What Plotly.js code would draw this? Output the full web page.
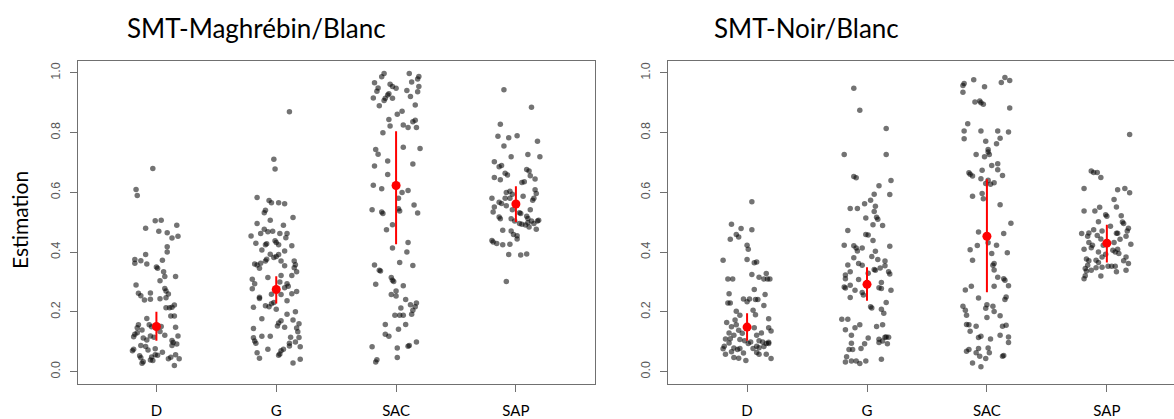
<!DOCTYPE html>
<html><head><meta charset="utf-8">
<script src="https://cdn.plot.ly/plotly-3.0.1.min.js"></script>
<style>html,body{margin:0;padding:0;overflow:hidden;background:#fff}#chart{width:1190px;height:419px}</style>
</head><body><div id="chart"></div>
<script>
const categories = ['D','G','SAC','SAP'];
const yTickVals = [0,0.2,0.4,0.6,0.8,1.0];
const yTickText = ['0.0','0.2','0.4','0.6','0.8','1.0'];
const panelTitles = ['SMT-Maghrébin/Blanc','SMT-Noir/Blanc'];
const yLabel = 'Estimation';

// ---- Panel 1 : SMT-Maghrébin/Blanc ----
const mbD_y = [0.68,0.61,0.59,0.507,0.505,0.49,0.48,0.47,0.465,0.447,0.453,0.418,0.40,0.363,0.375,0.392,0.371,0.36,0.373,0.35,0.346,0.334,0.318,0.318,0.304,0.29,0.262,0.254,0.263,0.278,0.27,0.26,0.244,0.247,0.24,0.242,0.223,0.214,0.214,0.215,0.186,0.186,0.178,0.157,0.147,0.139,0.157,0.15,0.151,0.134,0.122,0.148,0.119,0.117,0.125,0.13,0.112,0.106,0.119,0.115,0.104,0.097,0.07,0.075,0.087,0.084,0.072,0.076,0.065,0.087,0.092,0.053,0.046,0.049,0.056,0.055,0.039,0.037,0.043,0.048,0.043,0.056,0.033,0.028,0.02];
const mbD_jit = [-0.03,-0.17,-0.16,0.04,-0.01,0.17,-0.09,0.02,0.09,0.13,0.18,0.09,0.09,-0.18,-0.18,-0.09,-0.13,-0.08,0.05,0.0,0.01,0.06,0.07,0.16,0.03,-0.17,-0.15,-0.13,-0.05,0.07,0.08,0.10,0.03,0.08,-0.10,-0.05,0.15,0.08,0.11,0.13,0.12,0.15,-0.08,-0.15,-0.16,-0.12,-0.06,-0.04,0.04,0.03,0.07,0.16,0.18,-0.19,-0.18,-0.16,-0.11,-0.08,-0.05,-0.02,0.13,0.14,-0.2,-0.19,-0.13,-0.09,-0.07,-0.01,0.05,0.13,0.17,-0.14,-0.13,-0.04,-0.01,0.01,-0.05,-0.03,0.10,0.12,0.19,0.16,-0.11,-0.12,0.15];

const mbG_y = [0.87,0.711,0.678,0.583,0.573,0.565,0.565,0.562,0.54,0.532,0.516,0.507,0.496,0.49,0.477,0.468,0.47,0.462,0.454,0.462,0.462,0.448,0.43,0.425,0.428,0.438,0.432,0.425,0.421,0.407,0.404,0.393,0.392,0.382,0.385,0.376,0.36,0.357,0.363,0.37,0.37,0.354,0.37,0.358,0.346,0.348,0.334,0.322,0.315,0.322,0.309,0.294,0.277,0.30,0.281,0.294,0.286,0.259,0.258,0.237,0.261,0.268,0.249,0.245,0.22,0.217,0.227,0.231,0.209,0.215,0.192,0.20,0.177,0.173,0.163,0.17,0.153,0.148,0.146,0.16,0.133,0.144,0.113,0.102,0.095,0.118,0.118,0.115,0.114,0.095,0.086,0.099,0.083,0.075,0.063,0.045,0.07,0.075,0.055,0.059,0.029,0.041];
const mbG_jit = [0.11,-0.02,-0.01,-0.16,-0.06,-0.04,0.02,0.07,-0.09,-0.10,0.14,-0.05,-0.16,0.06,-0.10,-0.07,-0.03,-0.13,-0.21,0.03,0.09,0.08,-0.17,-0.09,-0.08,-0.01,0.0,0.02,0.13,-0.12,0.07,-0.05,0.02,-0.02,0.0,-0.08,-0.18,-0.16,-0.13,-0.09,0.04,0.07,0.15,0.16,-0.14,0.15,0.17,0.04,-0.07,0.13,-0.2,-0.18,-0.2,0.03,0.07,0.09,0.10,-0.04,0.04,0.09,0.13,0.17,-0.14,-0.14,-0.09,-0.06,-0.04,-0.02,0.0,-0.19,0.09,0.16,-0.12,0.14,0.02,0.04,0.01,0.07,0.17,0.19,0.18,-0.19,-0.19,-0.18,-0.17,-0.12,-0.05,0.12,0.19,0.11,0.11,0.16,0.2,-0.07,-0.16,-0.14,0.04,0.06,0.02,0.03,0.14,0.2];

const mbSAC_y = [0.998,0.987,0.998,0.988,0.98,0.967,0.962,0.955,0.949,0.97,0.955,0.95,0.939,0.941,0.916,0.915,0.926,0.93,0.908,0.915,0.921,0.937,0.89,0.893,0.862,0.872,0.844,0.822,0.826,0.817,0.837,0.842,0.817,0.80,0.744,0.728,0.751,0.747,0.705,0.688,0.695,0.66,0.624,0.612,0.60,0.606,0.58,0.545,0.538,0.542,0.534,0.529,0.558,0.531,0.492,0.475,0.414,0.432,0.40,0.365,0.355,0.357,0.339,0.337,0.292,0.315,0.306,0.302,0.287,0.27,0.258,0.253,0.241,0.224,0.23,0.217,0.213,0.205,0.192,0.189,0.189,0.189,0.158,0.142,0.158,0.125,0.118,0.085,0.087,0.099,0.083,0.079,0.04,0.032,0.047];
const mbSAC_jit = [-0.10,-0.12,0.11,0.19,0.18,-0.18,-0.05,-0.03,0.0,0.13,0.19,-0.15,-0.16,0.09,-0.19,-0.09,-0.07,-0.06,-0.10,-0.03,0.12,0.18,-0.14,0.16,0.01,0.05,-0.06,-0.05,0.06,0.10,0.14,0.16,0.17,-0.11,-0.17,-0.15,0.06,0.20,-0.07,-0.18,0.14,-0.07,-0.19,-0.12,0.05,0.10,0.02,0.02,0.03,-0.2,-0.12,-0.11,0.15,0.18,-0.03,-0.08,-0.03,0.10,0.09,0.03,0.14,-0.18,-0.14,-0.13,-0.17,-0.04,-0.03,-0.02,0.06,0.0,-0.04,0.0,0.08,0.12,0.17,0.16,0.04,0.14,0.13,-0.01,0.03,0.06,-0.09,0.02,0.08,-0.09,-0.06,0.10,0.11,0.17,-0.2,0.01,-0.16,-0.17,0.01];

const mbSAP_y = [0.944,0.885,0.828,0.788,0.783,0.79,0.771,0.755,0.727,0.719,0.719,0.703,0.686,0.69,0.664,0.658,0.677,0.672,0.65,0.642,0.656,0.645,0.636,0.633,0.609,0.58,0.567,0.563,0.60,0.604,0.594,0.58,0.555,0.58,0.587,0.574,0.58,0.596,0.534,0.518,0.512,0.551,0.542,0.532,0.529,0.512,0.504,0.542,0.52,0.513,0.496,0.493,0.491,0.498,0.504,0.496,0.504,0.507,0.484,0.477,0.473,0.471,0.459,0.455,0.444,0.439,0.434,0.429,0.425,0.426,0.392,0.39,0.394,0.302];
const mbSAP_jit = [-0.10,0.13,-0.13,-0.15,-0.06,0.01,0.18,-0.10,0.10,0.20,-0.04,-0.18,-0.14,-0.12,-0.09,-0.07,0.09,0.11,-0.18,-0.13,0.12,0.16,0.07,0.05,0.16,-0.20,-0.14,-0.12,-0.08,-0.05,-0.03,-0.09,-0.08,-0.05,0.06,0.14,0.15,0.17,-0.19,-0.14,-0.13,-0.18,-0.03,0.03,0.04,-0.04,-0.01,0.12,0.09,0.10,0.03,0.05,0.08,0.10,0.13,0.15,0.18,0.19,0.11,0.17,-0.11,-0.04,-0.02,0.01,0.01,-0.20,-0.19,-0.16,-0.11,-0.05,-0.06,0.04,0.09,-0.08];

const mbMean = [0.151,0.275,0.623,0.561];
const mbLow  = [0.103,0.228,0.426,0.501];
const mbHigh = [0.200,0.319,0.805,0.621];

// ---- Panel 2 : SMT-Noir/Blanc ----
const nbD_y = [0.569,0.493,0.479,0.475,0.459,0.451,0.443,0.373,0.423,0.41,0.375,0.367,0.364,0.31,0.31,0.316,0.31,0.328,0.31,0.31,0.325,0.261,0.275,0.258,0.23,0.23,0.243,0.234,0.243,0.241,0.241,0.221,0.205,0.19,0.202,0.177,0.164,0.173,0.189,0.15,0.157,0.129,0.122,0.138,0.128,0.147,0.129,0.122,0.147,0.136,0.109,0.11,0.107,0.103,0.099,0.094,0.103,0.099,0.094,0.098,0.085,0.076,0.096,0.079,0.074,0.077,0.077,0.085,0.08,0.084,0.094,0.058,0.066,0.047,0.045,0.062,0.064,0.058,0.058,0.044,0.037];
const nbD_jit = [0.04,-0.13,-0.05,0.04,-0.09,-0.07,-0.14,-0.20,0.0,0.01,0.0,0.08,0.06,-0.16,-0.12,0.10,0.14,0.16,0.17,0.19,0.04,-0.15,0.06,0.15,-0.16,-0.14,-0.03,0.0,0.02,0.07,0.09,0.14,0.05,0.07,-0.09,0.18,-0.17,-0.10,-0.06,-0.13,-0.09,-0.15,-0.11,-0.07,-0.04,0.06,0.12,0.08,0.18,0.20,-0.18,-0.14,-0.06,-0.02,0.03,0.01,0.10,0.13,0.16,0.18,-0.19,-0.2,-0.15,-0.11,-0.08,-0.06,0.05,0.08,0.10,0.14,0.18,-0.18,-0.13,-0.11,-0.07,-0.03,0.08,0.10,0.16,0.20,-0.01];

const nbG_y = [0.949,0.875,0.814,0.727,0.727,0.653,0.649,0.64,0.622,0.594,0.593,0.574,0.562,0.554,0.546,0.546,0.536,0.514,0.517,0.51,0.492,0.489,0.472,0.459,0.457,0.439,0.423,0.421,0.414,0.404,0.414,0.42,0.403,0.381,0.385,0.375,0.37,0.362,0.356,0.357,0.342,0.339,0.347,0.354,0.334,0.329,0.334,0.327,0.323,0.311,0.308,0.289,0.28,0.283,0.298,0.281,0.278,0.272,0.265,0.256,0.272,0.248,0.217,0.213,0.231,0.209,0.195,0.175,0.175,0.147,0.157,0.14,0.151,0.157,0.122,0.112,0.108,0.115,0.116,0.115,0.102,0.097,0.093,0.095,0.093,0.074,0.074,0.077,0.05,0.032,0.035,0.035,0.027,0.035,0.041];
const nbG_jit = [-0.11,-0.06,0.16,-0.19,0.16,-0.11,-0.09,0.2,0.10,0.06,0.19,0.03,-0.02,0.07,-0.14,-0.08,0.06,-0.01,0.08,0.09,0.05,0.13,-0.16,-0.01,0.01,0.05,-0.19,-0.11,-0.09,-0.08,-0.04,0.19,0.07,-0.11,0.04,0.09,0.15,-0.07,-0.04,-0.16,0.06,0.07,0.11,0.15,-0.14,0.01,0.18,0.19,-0.18,-0.18,-0.07,-0.14,-0.18,-0.19,0.12,0.10,0.12,-0.10,-0.04,-0.03,0.2,-0.14,0.03,0.04,0.16,0.12,0.14,-0.21,-0.16,-0.10,-0.06,-0.18,0.08,0.13,-0.13,0.01,0.10,0.15,0.16,0.18,0.13,0.10,0.17,-0.13,-0.02,-0.15,-0.12,-0.05,-0.17,-0.18,-0.13,-0.09,-0.06,-0.01,0.12];

const nbSAC_y = [0.985,0.975,0.968,0.977,0.965,0.958,0.954,0.935,0.903,0.906,0.90,0.895,0.883,0.83,0.806,0.806,0.806,0.802,0.78,0.781,0.771,0.763,0.727,0.744,0.735,0.719,0.727,0.69,0.696,0.674,0.666,0.661,0.655,0.676,0.657,0.646,0.641,0.63,0.632,0.627,0.587,0.596,0.579,0.559,0.497,0.467,0.422,0.408,0.431,0.395,0.462,0.423,0.398,0.373,0.356,0.34,0.362,0.306,0.316,0.311,0.287,0.286,0.273,0.286,0.25,0.241,0.246,0.212,0.219,0.205,0.219,0.189,0.224,0.201,0.187,0.157,0.158,0.152,0.181,0.152,0.155,0.135,0.114,0.118,0.122,0.116,0.097,0.109,0.068,0.074,0.063,0.077,0.051,0.044,0.079,0.063,0.051,0.054,0.029,0.016];
const nbSAC_jit = [0.15,0.19,0.12,-0.11,-0.19,-0.20,-0.02,-0.20,-0.10,-0.06,-0.05,-0.03,0.19,-0.16,-0.19,-0.05,0.09,0.18,-0.19,0.11,-0.01,0.08,-0.09,0.01,0.01,-0.02,0.02,0.04,0.09,-0.04,-0.15,-0.14,-0.12,0.09,0.13,-0.05,0.01,-0.01,0.06,0.03,-0.12,-0.04,-0.03,0.11,0.20,-0.07,-0.08,-0.14,0.01,0.04,0.14,0.08,0.17,-0.12,0.05,0.06,0.06,0.15,0.09,0.14,0.18,0.06,-0.18,-0.13,0.16,0.15,-0.07,-0.01,0.05,-0.18,-0.20,-0.17,0.0,0.06,0.11,-0.15,-0.17,-0.09,0.0,0.13,0.16,-0.14,-0.07,-0.05,0.11,0.18,0.18,0.03,-0.17,-0.15,-0.09,-0.07,-0.06,-0.01,0.01,0.02,0.13,0.14,-0.12,-0.05];

const nbSAP_y = [0.794,0.672,0.667,0.667,0.65,0.613,0.609,0.613,0.599,0.576,0.538,0.538,0.55,0.551,0.525,0.52,0.522,0.501,0.496,0.502,0.48,0.471,0.462,0.464,0.453,0.475,0.471,0.463,0.463,0.487,0.456,0.444,0.432,0.423,0.41,0.415,0.432,0.443,0.453,0.426,0.423,0.41,0.40,0.406,0.395,0.40,0.384,0.393,0.377,0.371,0.373,0.365,0.353,0.353,0.353,0.384,0.371,0.362,0.345,0.337,0.311,0.321,0.339,0.348,0.32,0.334,0.339,0.349,0.356];
const nbSAP_jit = [0.19,-0.13,-0.11,-0.08,-0.05,-0.19,0.09,0.15,0.19,0.06,-0.19,-0.10,-0.06,0.08,-0.01,0.0,0.12,0.13,0.14,-0.07,0.18,0.17,-0.21,-0.15,-0.16,-0.11,-0.04,0.08,0.09,0.03,-0.08,-0.05,-0.15,-0.12,-0.19,-0.13,0.06,0.11,0.16,0.2,-0.03,0.09,0.07,0.05,0.10,-0.07,-0.04,-0.01,-0.17,-0.15,-0.09,-0.07,0.01,0.04,0.07,0.16,0.14,0.18,-0.18,-0.17,-0.19,-0.18,-0.13,-0.09,-0.05,0.08,0.16,-0.04,-0.16];

const nbMean = [0.149,0.292,0.453,0.430];
const nbLow  = [0.103,0.237,0.266,0.365];
const nbHigh = [0.195,0.349,0.644,0.492];

// ---- build traces ----
function strip(ys, jit, ci, xa, ya) {
  return {type:'scatter', mode:'markers', x: ys.map((v,i)=>ci+1+jit[i]), y: ys,
    xaxis:xa, yaxis:ya, hoverinfo:'skip', showlegend:false,
    marker:{size:5.5, color:'rgba(0,0,0,0.55)', line:{width:0}}};
}
function means(m, lo, hi, xa, ya) {
  return {type:'scatter', mode:'markers', x:[1,2,3,4], y:m, xaxis:xa, yaxis:ya,
    hoverinfo:'skip', showlegend:false,
    marker:{size:9, color:'#ff0000'},
    error_y:{type:'data', symmetric:false, array:hi.map((h,i)=>h-m[i]), arrayminus:m.map((v,i)=>v-lo[i]),
      color:'#ff0000', thickness:2, width:0}};
}
const data = [
  strip(mbD_y, mbD_jit, 0, 'x', 'y'), strip(mbG_y, mbG_jit, 1, 'x', 'y'),
  strip(mbSAC_y, mbSAC_jit, 2, 'x', 'y'), strip(mbSAP_y, mbSAP_jit, 3, 'x', 'y'),
  means(mbMean, mbLow, mbHigh, 'x', 'y'),
  strip(nbD_y, nbD_jit, 0, 'x2', 'y2'), strip(nbG_y, nbG_jit, 1, 'x2', 'y2'),
  strip(nbSAC_y, nbSAC_jit, 2, 'x2', 'y2'), strip(nbSAP_y, nbSAP_jit, 3, 'x2', 'y2'),
  means(nbMean, nbLow, nbHigh, 'x2', 'y2')
];

const W = 1190, H = 419;
const axCol = '#707070';
function xAx(d) {
  return {domain:d, range:[0.344,4.66], tickmode:'array', tickvals:[1,2,3,4], ticktext:categories,
    ticks:'outside', ticklen:7, tickwidth:1, tickcolor:axCol, showline:true, mirror:true,
    linecolor:axCol, linewidth:1, showgrid:false, zeroline:false, fixedrange:true,
    ticklabelstandoff:6, tickfont:{family:'Lato, sans-serif', size:15, color:'#000'}};
}
function yAx(anchor) {
  return {domain:[0.0847,0.8544], anchor:anchor, range:[-0.04,1.04], tickmode:'array', tickvals:yTickVals, ticktext:yTickText,
    tickangle:-90, ticks:'outside', ticklen:7, tickwidth:1, tickcolor:axCol, showline:true, mirror:true,
    linecolor:axCol, linewidth:1, showgrid:false, zeroline:false, fixedrange:true,
    ticklabelstandoff:5,
    tickfont:{family:'Liberation Sans, Arial, sans-serif', size:12.5, color:'#5a5a5a'}};
}
const layout = {
  width:W, height:H, margin:{l:0,r:0,t:0,b:0}, paper_bgcolor:'#fff', plot_bgcolor:'#fff',
  showlegend:false,
  xaxis: Object.assign(xAx([77.8/W, 595/W]), {anchor:'y'}),
  yaxis: yAx('x'),
  xaxis2: Object.assign(xAx([668.4/W, 1186/W]), {anchor:'y2'}),
  yaxis2: yAx('x2'),
  annotations:[
    {text:panelTitles[0], xref:'paper', yref:'paper', x:125/W, y:(H-28)/H, xanchor:'left', yanchor:'middle', showarrow:false,
     font:{family:'Lato, sans-serif', size:26, color:'#000'}},
    {text:panelTitles[1], xref:'paper', yref:'paper', x:712/W, y:(H-28)/H, xanchor:'left', yanchor:'middle', showarrow:false,
     font:{family:'Lato, sans-serif', size:26, color:'#000'}},
    {text:yLabel, xref:'paper', yref:'paper', x:19/W, y:(H-220)/H, xanchor:'center', yanchor:'middle', textangle:-90, showarrow:false,
     font:{family:'Lato, sans-serif', size:21, color:'#000'}}
  ]
};
Plotly.newPlot('chart', data, layout, {staticPlot:true, displayModeBar:false});
</script></body></html>
